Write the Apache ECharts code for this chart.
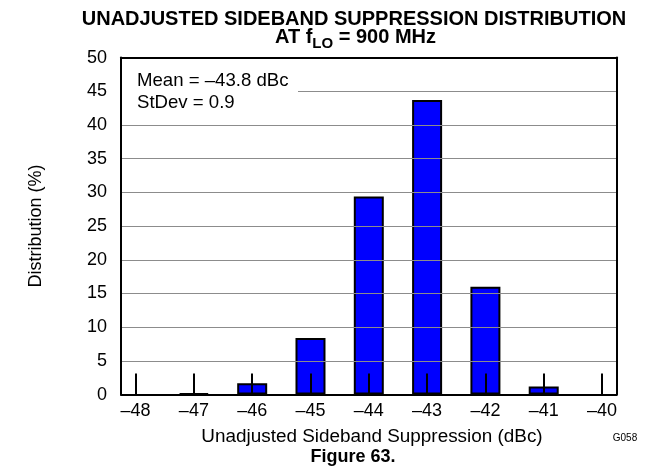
<!DOCTYPE html>
<html><head><meta charset="utf-8">
<script src="https://cdn.jsdelivr.net/npm/echarts@6/dist/echarts.min.js"></script>
<style>html,body{margin:0;padding:0;background:#fff}#c{width:655px;height:474px}</style>
</head><body><div id="c"></div>
<script>
const binCenters = [-48, -47, -46, -45, -44, -43, -42, -41, -40];
const distribution = [0, 0.2, 1.7, 8.4, 29.4, 43.7, 16.0, 1.2, 0];
const xTicks = [-48, -47, -46, -45, -44, -43, -42, -41, -40];
const yTicks = [0, 5, 10, 15, 20, 25, 30, 35, 40, 45, 50];
const titleLine1 = 'UNADJUSTED SIDEBAND SUPPRESSION DISTRIBUTION';
const statsLines = ['Mean = \u201343.8 dBc', 'StDev = 0.9'];

const FONT = '"Liberation Sans", Arial, sans-serif';
const dash = v => String(v).replace('-', '\u2013');

const ctx = document.createElement('canvas').getContext('2d');
function tw(t, f) { ctx.font = f; return ctx.measureText(t).width; }
const t2a = 'AT f', t2s = 'LO', t2b = ' = 900 MHz';
const fBig = 'bold 20px ' + FONT, fSub = 'bold 15px ' + FONT;
const wA = tw(t2a, fBig), wS = tw(t2s, fSub), wB = tw(t2b, fBig);
const l2x = 355.5 - (wA + wS + wB) / 2;

const chart = echarts.init(document.getElementById('c'), null, {renderer: 'canvas'});
chart.setOption({
  animation: false,
  backgroundColor: '#fff',
  grid: {left: 121, right: 38.4, top: 57.6, bottom: 79.4},
  xAxis: [{
    type: 'value', min: -48.25, max: -39.75, z: 5,
    axisLine: {show: true, onZero: false, lineStyle: {color: '#000', width: 2}},
    axisTick: {show: true, inside: true, length: 21, customValues: xTicks, lineStyle: {color: '#000', width: 2}},
    axisLabel: {customValues: xTicks, formatter: v => dash(v), color: '#000', fontSize: 18, fontFamily: FONT, margin: 7},
    splitLine: {show: false}
  }, {
    type: 'value', position: 'top', min: -48.25, max: -39.75, z: 5,
    axisLine: {show: true, onZero: false, lineStyle: {color: '#000', width: 2}},
    axisTick: {show: false}, axisLabel: {show: false}, splitLine: {show: false}
  }],
  yAxis: [{
    type: 'value', min: 0, max: 50, interval: 5, z: 5,
    axisLine: {show: true, onZero: false, lineStyle: {color: '#000', width: 2}},
    axisTick: {show: false},
    axisLabel: {customValues: yTicks, color: '#000', fontSize: 18, fontFamily: FONT, margin: 14},
    splitLine: {show: true, lineStyle: {color: '#8c8c8c', width: 1}}
  }, {
    type: 'value', position: 'right', min: 0, max: 50, z: 5,
    axisLine: {show: true, onZero: false, lineStyle: {color: '#000', width: 2}},
    axisTick: {show: false}, axisLabel: {show: false}, splitLine: {show: false}
  }],
  series: [{
    type: 'bar', xAxisIndex: 0, yAxisIndex: 0, barWidth: 30,
    itemStyle: {color: '#0000ff', borderColor: '#000', borderWidth: 2},
    data: binCenters.map((x, i) => distribution[i] > 0 ? [x, distribution[i]] : [x, '-'])
  }],
  graphic: [
    {type: 'rect', z: 10, shape: {x: 122, y: 59, width: 176, height: 56}, style: {fill: '#fff'}},
    {type: 'text', z: 11, x: 137, y: 81, style: {text: statsLines[0], font: '18.6px ' + FONT, fill: '#000', textVerticalAlign: 'middle'}},
    {type: 'text', z: 11, x: 137, y: 103, style: {text: statsLines[1], font: '18.6px ' + FONT, fill: '#000', textVerticalAlign: 'middle'}},
    {type: 'text', x: 354, y: 19.5, style: {text: titleLine1, font: fBig, fill: '#000', textAlign: 'center', textVerticalAlign: 'middle'}},
    {type: 'text', x: l2x, y: 37, style: {text: t2a, font: fBig, fill: '#000', textVerticalAlign: 'middle'}},
    {type: 'text', x: l2x + wA, y: 44, style: {text: t2s, font: fSub, fill: '#000', textVerticalAlign: 'middle'}},
    {type: 'text', x: l2x + wA + wS, y: 37, style: {text: t2b, font: fBig, fill: '#000', textVerticalAlign: 'middle'}},
    {type: 'text', x: 36, y: 226, rotation: Math.PI / 2, style: {text: 'Distribution (%)', font: '18px ' + FONT, fill: '#000', textAlign: 'center', textVerticalAlign: 'middle'}},
    {type: 'text', x: 372, y: 437, style: {text: 'Unadjusted Sideband Suppression (dBc)', font: '18.9px ' + FONT, fill: '#000', textAlign: 'center', textVerticalAlign: 'middle'}},
    {type: 'text', x: 625, y: 438, style: {text: 'G058', font: '10px ' + FONT, fill: '#000', textAlign: 'center', textVerticalAlign: 'middle'}},
    {type: 'text', x: 353, y: 457, style: {text: 'Figure 63.', font: 'bold 18px ' + FONT, fill: '#000', textAlign: 'center', textVerticalAlign: 'middle'}}
  ]
});
</script></body></html>
